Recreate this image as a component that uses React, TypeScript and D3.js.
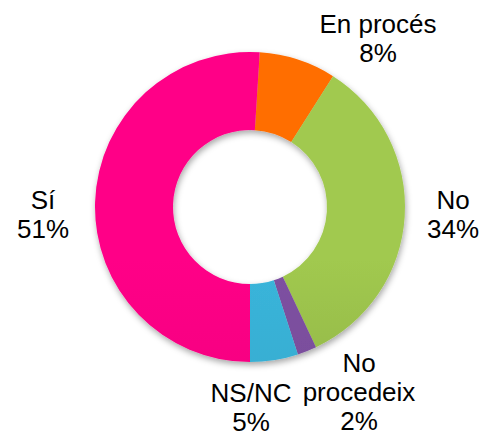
import React from "react";
import * as d3 from "d3";

const categories = ["En procés", "No", "No procedeix", "NS/NC", "Sí"];
const values = [8, 34, 2, 5, 51];
const labelLines = [["En procés", "8%"], ["No", "34%"], ["No", "procedeix", "2%"], ["NS/NC", "5%"], ["Sí", "51%"]];
const colors = ["#FF6A00", "#9BC24C", "#7A4E9C", "#38AFD3", "#FA0082"];

const W = 484, H = 436;
const cx = 250, cy = 207, rOuter = 155, rInner = 77;
const startOffset = (3.6 * Math.PI) / 180;
// label anchor positions (center x, first baseline y)
const labelPos: [number, number][] = [[378, 33], [453, 209], [359, 372], [251, 402], [43, 209]];
const lineGap = 29;

export default function App() {
  const pie = d3.pie<number>().sort(null).startAngle(startOffset).endAngle(startOffset + 2 * Math.PI);
  const arcs = pie(values);
  const arc = d3.arc<d3.PieArcDatum<number>>().innerRadius(rInner).outerRadius(rOuter);
  return (
    <svg width={W} height={H} style={{ position: "absolute", left: 0, top: 0, background: "#fff" }}>
      <defs>
        <filter id="sh" x="-20%" y="-20%" width="140%" height="140%">
          <feDropShadow dx="1" dy="3" stdDeviation="3" floodColor="#000" floodOpacity="0.35" />
        </filter>
        {colors.map((c, i) => (
          <linearGradient key={i} id={`g${i}`} gradientUnits="userSpaceOnUse" x1={0} y1={cy - rOuter} x2={0} y2={cy + rOuter}>
            <stop offset="0" stopColor={d3.color(c)!.brighter(0.1).formatHex()} />
            <stop offset="1" stopColor={d3.color(c)!.darker(i === 1 ? 0.5 : 0.2).formatHex()} />
          </linearGradient>
        ))}
      </defs>
      <g transform={`translate(${cx},${cy})`} filter="url(#sh)">
        {arcs.map((a, i) => (
          <path key={categories[i]} d={arc(a)!} fill={`url(#g${i})`} />
        ))}
      </g>
      <g fontFamily="'Liberation Sans', Arial, sans-serif" fontSize={26} fill="#000" textAnchor="middle">
        {labelLines.map((lines, i) => (
          <text key={i} x={labelPos[i][0]} y={labelPos[i][1]}>
            {lines.map((l, j) => (
              <tspan key={j} x={labelPos[i][0]} y={labelPos[i][1] + j * lineGap}>{l}</tspan>
            ))}
          </text>
        ))}
      </g>
    </svg>
  );
}
